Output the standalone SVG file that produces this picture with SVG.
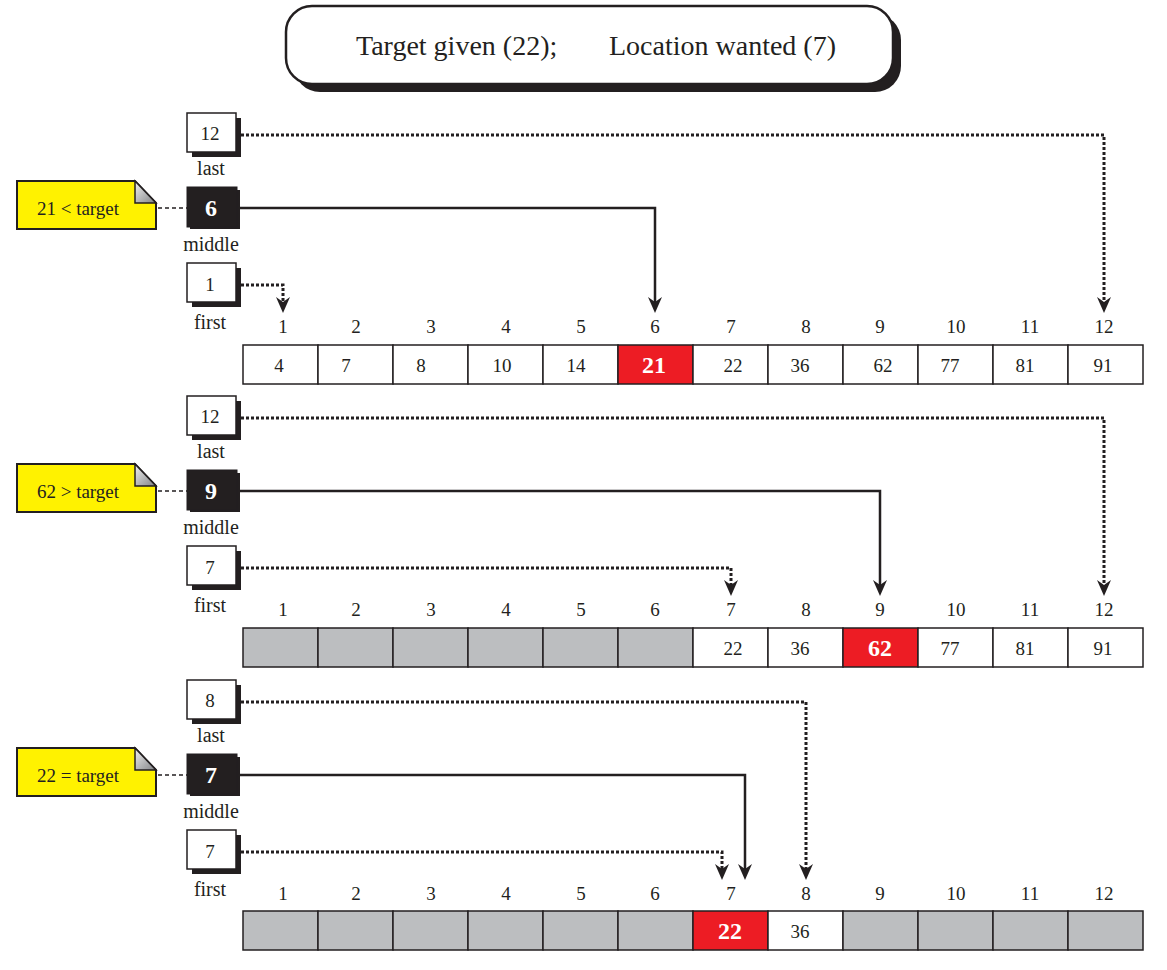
<svg xmlns="http://www.w3.org/2000/svg" width="1167" height="970" viewBox="0 0 1167 970">
<defs>
<style>
text{font-family:"Liberation Serif","Times New Roman",serif;fill:#231f20}
.t{font-size:28px}
.lbl{font-size:20px;text-anchor:middle}
.idx{font-size:19px;text-anchor:middle}
.val{font-size:19px;text-anchor:middle}
.bv{font-size:24px;font-weight:bold;text-anchor:middle;fill:#fff}
.bn{font-size:19px;text-anchor:middle}
.note{font-size:19px;text-anchor:middle}
.box{fill:#fff;stroke:#231f20;stroke-width:1.5}
.sh{fill:#231f20}
.mid{fill:#231f20;stroke:#231f20;stroke-width:1}
.cell{fill:#fff;stroke:#231f20;stroke-width:1.5}
.gray{fill:#bcbec0;stroke:#231f20;stroke-width:1.5}
.red{fill:#ed1c24;stroke:#231f20;stroke-width:1.5}
.dot{fill:none;stroke:#231f20;stroke-width:3;stroke-dasharray:3 2}
.sol{fill:none;stroke:#231f20;stroke-width:2.5}
.dash{fill:none;stroke:#231f20;stroke-width:1.5;stroke-dasharray:4 3}
.ny{fill:#fff200;stroke:#231f20;stroke-width:2}
.fold{fill:url(#fg);stroke:#231f20;stroke-width:1.5}
</style>
<linearGradient id="fg" x1="0" y1="0" x2="1" y2="1">
<stop offset="0" stop-color="#f2f2f2"/>
<stop offset="1" stop-color="#808285"/>
</linearGradient>
<marker id="ah" markerUnits="userSpaceOnUse" viewBox="-7 -8 18 16" markerWidth="18" markerHeight="16" refX="0" refY="0" orient="auto">
<path d="M10,0 L-6,-7 L-1,0 L-6,7 Z" fill="#231f20"/>
</marker>
<g id="noteShape">
<polygon class="ny" points="17,181 135,181 156,203 156,229 17,229"/>
<polygon class="fold" points="135,181 156,203 135,203"/>
</g>
</defs>

<g id="title">
<rect x="294" y="14" width="607" height="78" rx="26" class="sh"/>
<rect x="286" y="6" width="607" height="78" rx="26" fill="#fff" stroke="#231f20" stroke-width="2.5"/>
<text class="t" x="356" y="55">Target given (22);</text>
<text class="t" x="609" y="55">Location wanted (7)</text>
</g>

<!-- Section 1 -->
<g id="s1">
<g id="s1-last">
<rect x="192" y="118" width="49" height="39" class="sh"/>
<rect x="187" y="113" width="49" height="39" class="box"/>
<text class="bn" x="210" y="140">12</text>
<text class="lbl" x="211" y="175">last</text>
</g>
<g id="s1-middle">
<rect x="190" y="190" width="50" height="39" class="sh"/>
<rect x="187" y="187" width="50" height="40" class="mid"/>
<text class="bv" x="211" y="216">6</text>
<text class="lbl" x="211" y="251">middle</text>
</g>
<g id="s1-first">
<rect x="192" y="268" width="49" height="39" class="sh"/>
<rect x="187" y="263" width="49" height="39" class="box"/>
<text class="bn" x="210" y="291">1</text>
<text class="lbl" x="210" y="329">first</text>
</g>
<g id="s1-note">
<use href="#noteShape"/>
<text class="note" x="78" y="215">21 &lt; target</text>
</g>
<g id="s1-array">
<g class="idx-row">
<text class="idx" x="283" y="333">1</text><text class="idx" x="356" y="333">2</text><text class="idx" x="431" y="333">3</text><text class="idx" x="506" y="333">4</text><text class="idx" x="581" y="333">5</text><text class="idx" x="655" y="333">6</text><text class="idx" x="731" y="333">7</text><text class="idx" x="806" y="333">8</text><text class="idx" x="880" y="333">9</text><text class="idx" x="956" y="333">10</text><text class="idx" x="1030" y="333">11</text><text class="idx" x="1104" y="333">12</text>
</g>
<rect x="243" y="345" width="75" height="39" class="cell"/><rect x="318" y="345" width="75" height="39" class="cell"/><rect x="393" y="345" width="75" height="39" class="cell"/><rect x="468" y="345" width="75" height="39" class="cell"/><rect x="543" y="345" width="75" height="39" class="cell"/><rect x="618" y="345" width="75" height="39" class="red"/><rect x="693" y="345" width="75" height="39" class="cell"/><rect x="768" y="345" width="75" height="39" class="cell"/><rect x="843" y="345" width="75" height="39" class="cell"/><rect x="918" y="345" width="75" height="39" class="cell"/><rect x="993" y="345" width="75" height="39" class="cell"/><rect x="1068" y="345" width="75" height="39" class="cell"/>
<text class="val" x="279" y="372">4</text><text class="val" x="346" y="372">7</text><text class="val" x="421" y="372">8</text><text class="val" x="502" y="372">10</text><text class="val" x="576" y="372">14</text><text class="bv" x="654" y="373">21</text><text class="val" x="733" y="372">22</text><text class="val" x="800" y="372">36</text><text class="val" x="883" y="372">62</text><text class="val" x="950" y="372">77</text><text class="val" x="1025" y="372">81</text><text class="val" x="1103" y="372">91</text>
</g>
</g>

<!-- Section 2 -->
<g id="s2">
<g id="s2-last">
<rect x="192" y="401" width="49" height="39" class="sh"/>
<rect x="187" y="396" width="49" height="39" class="box"/>
<text class="bn" x="210" y="423">12</text>
<text class="lbl" x="211" y="458">last</text>
</g>
<g id="s2-middle">
<rect x="190" y="473" width="50" height="39" class="sh"/>
<rect x="187" y="470" width="50" height="40" class="mid"/>
<text class="bv" x="211" y="499">9</text>
<text class="lbl" x="211" y="534">middle</text>
</g>
<g id="s2-first">
<rect x="192" y="551" width="49" height="39" class="sh"/>
<rect x="187" y="546" width="49" height="39" class="box"/>
<text class="bn" x="210" y="574">7</text>
<text class="lbl" x="210" y="612">first</text>
</g>
<g id="s2-note" transform="translate(0,283)">
<use href="#noteShape"/>
<text class="note" x="78" y="215">62 &gt; target</text>
</g>
<g id="s2-array">
<text class="idx" x="283" y="616">1</text><text class="idx" x="356" y="616">2</text><text class="idx" x="431" y="616">3</text><text class="idx" x="506" y="616">4</text><text class="idx" x="581" y="616">5</text><text class="idx" x="655" y="616">6</text><text class="idx" x="731" y="616">7</text><text class="idx" x="806" y="616">8</text><text class="idx" x="880" y="616">9</text><text class="idx" x="956" y="616">10</text><text class="idx" x="1030" y="616">11</text><text class="idx" x="1104" y="616">12</text>
<rect x="243" y="628" width="75" height="39" class="gray"/><rect x="318" y="628" width="75" height="39" class="gray"/><rect x="393" y="628" width="75" height="39" class="gray"/><rect x="468" y="628" width="75" height="39" class="gray"/><rect x="543" y="628" width="75" height="39" class="gray"/><rect x="618" y="628" width="75" height="39" class="gray"/><rect x="693" y="628" width="75" height="39" class="cell"/><rect x="768" y="628" width="75" height="39" class="cell"/><rect x="843" y="628" width="75" height="39" class="red"/><rect x="918" y="628" width="75" height="39" class="cell"/><rect x="993" y="628" width="75" height="39" class="cell"/><rect x="1068" y="628" width="75" height="39" class="cell"/>
<text class="val" x="733" y="655">22</text><text class="val" x="800" y="655">36</text><text class="bv" x="880" y="656">62</text><text class="val" x="950" y="655">77</text><text class="val" x="1025" y="655">81</text><text class="val" x="1103" y="655">91</text>
</g>
</g>

<!-- Section 3 -->
<g id="s3">
<g id="s3-last">
<rect x="192" y="685" width="49" height="39" class="sh"/>
<rect x="187" y="680" width="49" height="39" class="box"/>
<text class="bn" x="210" y="707">8</text>
<text class="lbl" x="211" y="742">last</text>
</g>
<g id="s3-middle">
<rect x="190" y="757" width="50" height="39" class="sh"/>
<rect x="187" y="754" width="50" height="40" class="mid"/>
<text class="bv" x="211" y="783">7</text>
<text class="lbl" x="211" y="818">middle</text>
</g>
<g id="s3-first">
<rect x="192" y="835" width="49" height="39" class="sh"/>
<rect x="187" y="830" width="49" height="39" class="box"/>
<text class="bn" x="210" y="858">7</text>
<text class="lbl" x="210" y="896">first</text>
</g>
<g id="s3-note" transform="translate(0,567)">
<use href="#noteShape"/>
<text class="note" x="78" y="215">22 = target</text>
</g>
<g id="s3-array">
<text class="idx" x="283" y="900">1</text><text class="idx" x="356" y="900">2</text><text class="idx" x="431" y="900">3</text><text class="idx" x="506" y="900">4</text><text class="idx" x="581" y="900">5</text><text class="idx" x="655" y="900">6</text><text class="idx" x="731" y="900">7</text><text class="idx" x="806" y="900">8</text><text class="idx" x="880" y="900">9</text><text class="idx" x="956" y="900">10</text><text class="idx" x="1030" y="900">11</text><text class="idx" x="1104" y="900">12</text>
<rect x="243" y="911" width="75" height="39" class="gray"/><rect x="318" y="911" width="75" height="39" class="gray"/><rect x="393" y="911" width="75" height="39" class="gray"/><rect x="468" y="911" width="75" height="39" class="gray"/><rect x="543" y="911" width="75" height="39" class="gray"/><rect x="618" y="911" width="75" height="39" class="gray"/><rect x="693" y="911" width="75" height="39" class="red"/><rect x="768" y="911" width="75" height="39" class="cell"/><rect x="843" y="911" width="75" height="39" class="gray"/><rect x="918" y="911" width="75" height="39" class="gray"/><rect x="993" y="911" width="75" height="39" class="gray"/><rect x="1068" y="911" width="75" height="39" class="gray"/>
<text class="bv" x="730" y="939">22</text><text class="val" x="800" y="938">36</text>
</g>
</g>

<g id="connectors">
<path class="dot" d="M241,135 H1104 V303" marker-end="url(#ah)"/>
<path class="sol" d="M240,208 H655 V303" marker-end="url(#ah)"/>
<path class="dot" d="M241,285 H283 V303" marker-end="url(#ah)"/>
<path class="dash" d="M158,208 H187"/>

<path class="dot" d="M241,418 H1104 V586" marker-end="url(#ah)"/>
<path class="sol" d="M240,491 H880 V586" marker-end="url(#ah)"/>
<path class="dot" d="M241,568 H731 V586" marker-end="url(#ah)"/>
<path class="dash" d="M158,491 H187"/>

<path class="dot" d="M241,702 H806 V870" marker-end="url(#ah)"/>
<path class="sol" d="M240,775 H745 V870" marker-end="url(#ah)"/>
<path class="dot" d="M241,852 H722 V870" marker-end="url(#ah)"/>
<path class="dash" d="M158,775 H187"/>
</g>
</svg>
